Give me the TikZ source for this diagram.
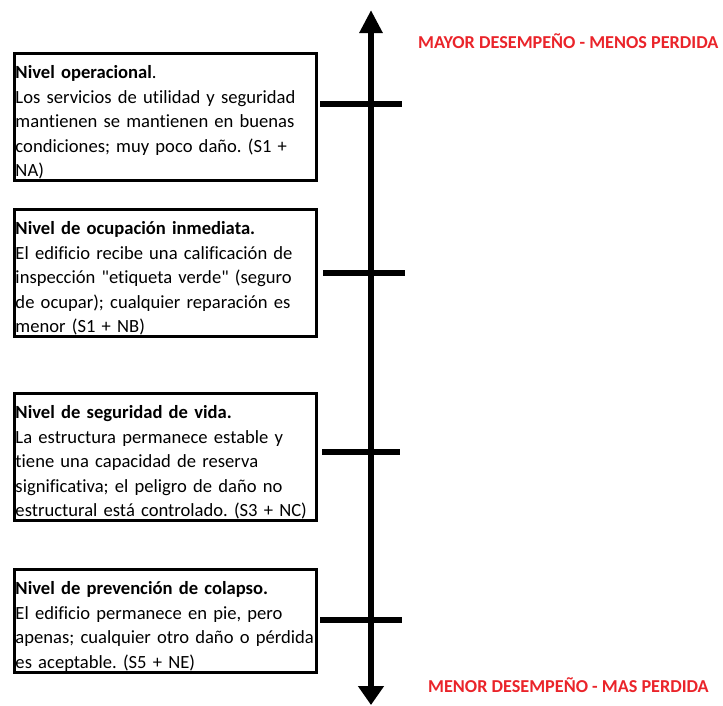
\documentclass[tikz,border=0pt]{standalone}
\usepackage{fontspec}
\setmainfont{Carlito}[Ligatures={TeX,NoCommon}]
\usetikzlibrary{arrows.meta}
\frenchspacing
\definecolor{rojo}{RGB}{234,36,42}
\tikzstyle{nivel}=[rectangle, draw, line width=3pt, anchor=north west, align=left, text width=300pt, inner xsep=1pt, inner ysep=1pt, font=\fontsize{18.6}{24.6}\selectfont]
\tikzstyle{marca}=[line width=6pt]
\tikzstyle{extremo}=[text=rojo, font=\fontsize{18.2}{22}\selectfont\bfseries]
\newcommand{\arranque}{\rule{0pt}{24pt}}

\begin{document}
\begin{tikzpicture}[x=1pt,y=-1pt]
  \useasboundingbox (0,0) rectangle (723,705);
  % eje de desempeno
  \coordinate (arriba) at (371,10);
  \coordinate (abajo) at (371,705);
  \draw[line width=6pt, {Triangle[width=22pt,length=23pt]}-{Triangle[width=25pt,length=19pt]}] (arriba) -- (abajo);

  \node[nivel] (operacional) at (13,52) {\arranque\textbf{Nivel operacional}.\\
    Los servicios de utilidad y seguridad\\
    mantienen se mantienen en buenas\\
    condiciones; muy poco daño. (S1 +\\
    NA)};
  \node[nivel] (ocupacion) at (13,208) {\arranque\textbf{Nivel de ocupación inmediata.}\\
    El edificio recibe una calificación de\\
    inspección \textquotedbl etiqueta verde\textquotedbl{} (seguro\\
    de ocupar); cualquier reparación es\\
    menor (S1 + NB)};
  \node[nivel] (vida) at (13,392) {\arranque\textbf{Nivel de seguridad de vida.}\\
    La estructura permanece estable y\\
    tiene una capacidad de reserva\\
    significativa; el peligro de daño no\\
    estructural está controlado. (S3 + NC)};
  \node[nivel] (colapso) at (13,568) {\arranque\textbf{Nivel de prevención de colapso.}\\
    El edificio permanece en pie, pero\\
    apenas; cualquier otro daño o pérdida\\
    es aceptable. (S5 + NE)};

  % marcas sobre el eje
  \coordinate (m1a) at (320,104); \coordinate (m1b) at (402,104);
  \coordinate (m2a) at (323,273); \coordinate (m2b) at (405,273);
  \coordinate (m3a) at (322,452); \coordinate (m3b) at (400,452);
  \coordinate (m4a) at (320,620); \coordinate (m4b) at (402,620);
  \draw[marca] (m1a) -- (m1b);
  \draw[marca] (m2a) -- (m2b);
  \draw[marca] (m3a) -- (m3b);
  \draw[marca] (m4a) -- (m4b);

  \node[extremo, anchor=west, inner xsep=0pt] (mayor) at (418,41) {MAYOR DESEMPEÑO - MENOS PERDIDA};
  \node[extremo, anchor=west, inner xsep=0pt] (menor) at (428,685) {MENOR DESEMPEÑO - MAS PERDIDA};
\end{tikzpicture}
\end{document}
